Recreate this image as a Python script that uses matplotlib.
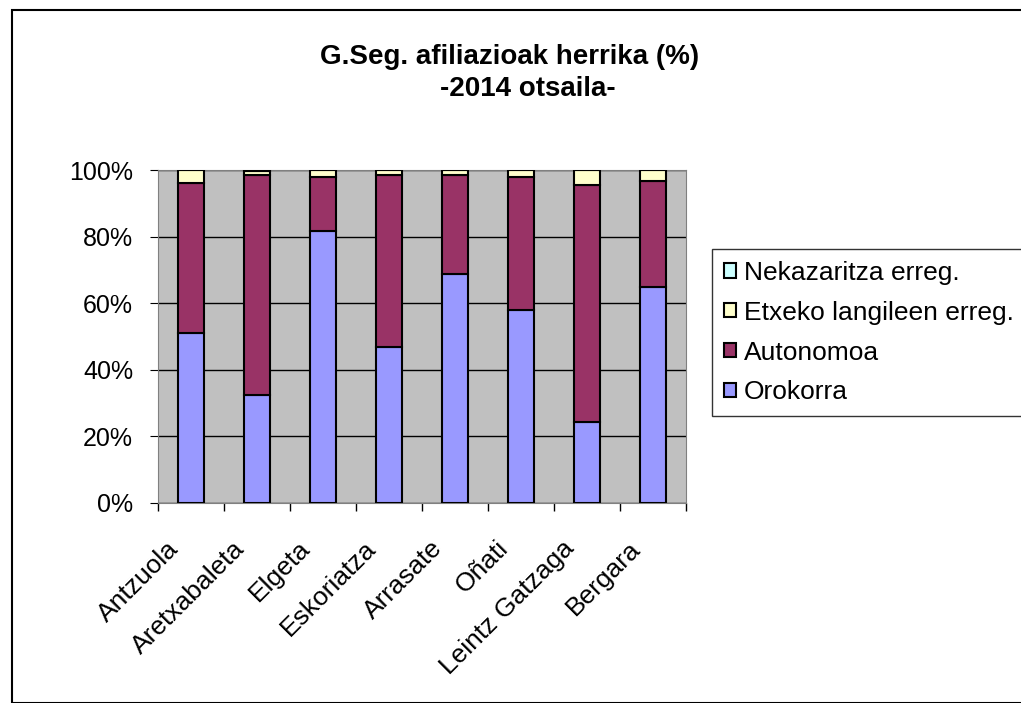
import numpy as np
import matplotlib
matplotlib.use("Agg")
import matplotlib.pyplot as plt
import matplotlib.transforms as mtransforms
from matplotlib.patches import Rectangle
from matplotlib.ticker import PercentFormatter

plt.rcParams['font.family'] = ['Liberation Sans', 'DejaVu Sans']

herriak = ["Antzuola", "Aretxabaleta", "Elgeta", "Eskoriatza",
           "Arrasate", "Oñati", "Leintz Gatzaga", "Bergara"]
orokorra = [51.1, 32.4, 81.8, 46.9, 68.8, 58.0, 24.3, 64.9]
autonomoa = [45.1, 66.2, 16.0, 51.7, 29.8, 39.8, 71.2, 31.8]
etxeko = [3.7, 1.2, 2.1, 1.3, 1.3, 2.1, 4.4, 3.2]
nekazaritza = [0.1, 0.2, 0.1, 0.1, 0.1, 0.1, 0.1, 0.1]

series = [("Orokorra", orokorra, "#9999FF"),
          ("Autonomoa", autonomoa, "#993366"),
          ("Etxeko langileen erreg.", etxeko, "#FFFFCC"),
          ("Nekazaritza erreg.", nekazaritza, "#CCFFFF")]

fig = plt.figure(figsize=(10.21, 7.03), dpi=100)
ax = fig.add_axes([158/1021, 1-503/703, (686-158)/1021, (503-170)/703])
ax.set_facecolor("#C0C0C0")

x = np.arange(len(herriak))
bottom = np.zeros(len(herriak))
handles = []
for name, vals, col in series:
    vals = np.array(vals)
    b = ax.bar(x, vals, 0.39, bottom=bottom, color=col, edgecolor="black",
               linewidth=1.5, label=name, zorder=3)
    handles.append(b)
    bottom += vals

ax.set_xlim(-0.5, len(herriak) - 0.5)
ax.set_ylim(0, 100)
ax.set_yticks(np.arange(0, 101, 20))
ax.yaxis.set_major_formatter(PercentFormatter(decimals=0))
ax.grid(axis="y", color="black", linewidth=1, zorder=1)
ax.set_axisbelow(True)

ax.set_xticks(x)
ax.set_xticklabels(herriak, rotation=45, ha="right", va="top",
                   rotation_mode="anchor", fontsize=19)
ax.tick_params(axis="x", length=0, pad=24)
offset = mtransforms.ScaledTranslation(-25/100, 0, fig.dpi_scale_trans)
for lab in ax.get_xticklabels():
    lab.set_transform(lab.get_transform() + offset)
ax.set_xticks(np.arange(-0.5, len(herriak)), minor=True)
ax.tick_params(axis="x", which="minor", length=6, width=1, direction="out")
ax.tick_params(axis="y", labelsize=18, length=6, direction="out", pad=12)

for s in ax.spines.values():
    s.set_color("#808080")

fig.text(510/1021, 1 - 57/703, "G.Seg. afiliazioak herrika (%)",
         ha="center", va="center", fontsize=20, fontweight="bold")
fig.text(528/1021, 1 - 89/703, "-2014 otsaila-",
         ha="center", va="center", fontsize=20, fontweight="bold")

leg = fig.legend(handles[::-1], [s[0] for s in series][::-1],
                 loc="upper left", bbox_to_anchor=(712/1021, 1-249/703),
                 fontsize=19, frameon=True, fancybox=False, edgecolor="black",
                 handlelength=0.45, handleheight=0.45, handletextpad=0.3,
                 labelspacing=0.6, borderpad=0.45, borderaxespad=0)
leg.get_frame().set_linewidth(1)

fig.patches.append(Rectangle((12/1021, 0), 1.1, 1 - 10/703, transform=fig.transFigure,
                             fill=False, edgecolor="black", linewidth=1.5))

fig.savefig("out.png", dpi=100)
